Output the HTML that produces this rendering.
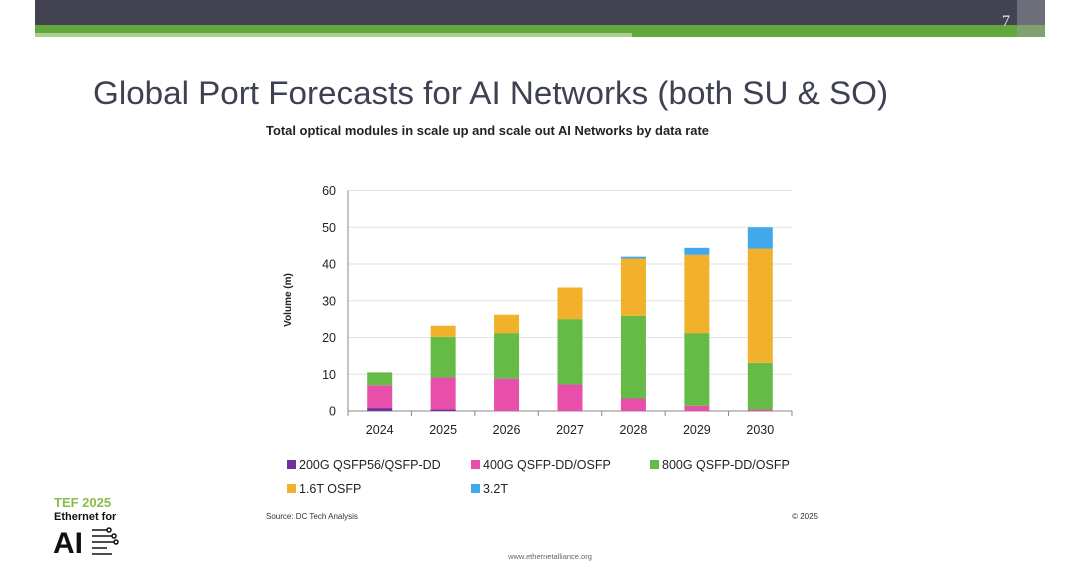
<!DOCTYPE html>
<html><head><meta charset="utf-8"><style>
body{margin:0;width:1080px;height:568px;background:#fff;overflow:hidden;font-family:"Liberation Sans",sans-serif;}
svg{position:absolute;left:0;top:0}
</style></head><body>
<svg width="1080" height="568">
<rect x="35" y="0" width="1010" height="25" fill="#424253"/>
<rect x="35" y="25" width="1010" height="12" fill="#62a83a"/>
<rect x="35" y="33" width="597" height="4" fill="#a9d18e"/>
<rect x="1017" y="0" width="28" height="37" fill="#9a9aa2" opacity="0.5"/>
<text x="1010" y="26" font-family="Liberation Serif" font-size="16" fill="#e8e8e8" text-anchor="end">7</text>
<text x="93" y="104" font-size="32" fill="#3e4152" textLength="795" lengthAdjust="spacingAndGlyphs">Global Port Forecasts for AI Networks (both SU &amp; SO)</text>
<text x="266" y="135" font-size="12.5" font-weight="bold" fill="#222" textLength="443" lengthAdjust="spacingAndGlyphs">Total optical modules in scale up and scale out AI Networks by data rate</text>
<g id="chart"></g>
<text x="266" y="519" font-size="8" fill="#333">Source: DC Tech Analysis</text>
<text x="818" y="519" font-size="8" fill="#333" text-anchor="end">© 2025</text>
<text x="550" y="559" font-size="7.5" fill="#666" text-anchor="middle">www.ethernetalliance.org</text>
<g>
<text x="54" y="507" font-size="13" font-weight="bold" fill="#8dbb4a">TEF 2025</text>
<text x="54" y="520" font-size="11" font-weight="bold" fill="#111">Ethernet for</text>
<text x="53" y="553" font-size="30" font-weight="bold" fill="#111">AI</text>
<g stroke="#111" stroke-width="1.5" fill="none"><path d="M92 530h15M92 536h20M92 542h22M92 548h15M92 554h20"/><circle cx="109" cy="530" r="2"/><circle cx="114" cy="536" r="2"/><circle cx="116" cy="542" r="2"/></g>
</g>
</svg>
<script>
const categories=["2024","2025","2026","2027","2028","2029","2030"];
const s200=[0.8,0.4,0,0,0,0,0];
const s400=[6.2,8.7,8.8,7.2,3.4,1.4,0.4];
const s800=[3.5,11.1,12.4,17.8,22.5,19.8,12.7];
const s16=[0,3.0,5.0,8.6,15.6,21.3,31.1];
const s32=[0,0,0,0,0.5,1.9,5.8];
const yTicks=[0,10,20,30,40,50,60];
const seriesNames=["200G QSFP56/QSFP-DD","400G QSFP-DD/OSFP","800G QSFP-DD/OSFP","1.6T OSFP","3.2T"];
const colors=["#7030a0","#e84faa","#66bb46","#f2b12a","#41a8ec"];
const series=[s200,s400,s800,s16,s32];
const NS="http://www.w3.org/2000/svg";
const g=document.getElementById('chart');
const x0=348,x1=792,y0=411,y1=190.5,ymax=60;
const yS=v=>y0-(v/ymax)*(y0-y1);
const band=(x1-x0)/categories.length;
const xS=i=>x0+band*(i+0.5);
function mk(t,a){const e=document.createElementNS(NS,t);for(const k in a)e.setAttribute(k,a[k]);g.appendChild(e);return e;}
yTicks.forEach(t=>{
 const l=mk('line',{x1:x0,x2:x1,y1:yS(t),y2:yS(t),stroke:t===0?'#888':'#e2e2e2','stroke-width':1});
 
 
 const tx=mk('text',{x:x0-12,y:yS(t)+4.5,'font-size':12.5,fill:'#222','text-anchor':'end'});tx.textContent=t;
 
 
});
const ax=mk('line',{x1:x0,x2:x0,y1:y1,y2:y0,stroke:'#888'});


for(let i=0;i<=categories.length;i++){const tk=mk('line',{x1:x0+band*i,x2:x0+band*i,y1:y0,y2:y0+5,stroke:'#888'});
 
 }
categories.forEach((c,i)=>{
 let acc=0;
 series.forEach((s,k)=>{
  const v=s[i];if(v<=0)return;
  const r=mk('rect',{x:xS(i)-12.5,width:25,y:yS(acc+v),height:yS(acc)-yS(acc+v),fill:colors[k]});
  
  
  acc+=v;
 });
 const t=mk('text',{x:xS(i),y:434,'font-size':12.5,fill:'#222','text-anchor':'middle'});t.textContent=c;
 
 
});
const yt=mk('text',{x:0,y:0,'font-size':10,'font-weight':'bold',fill:'#222','text-anchor':'middle',transform:'translate(291,300) rotate(-90)'});yt.textContent='Volume (m)';


const lp=[[287,469],[471,469],[650,469],[287,493],[471,493]];
seriesNames.forEach((n,k)=>{
 const r=mk('rect',{x:lp[k][0],y:lp[k][1]-9,width:9,height:9,fill:colors[k]});
 
 
 const t=mk('text',{x:lp[k][0]+12,y:lp[k][1],'font-size':12.5,fill:'#222'});t.textContent=n;
 
 
});
</script>
</body></html>
